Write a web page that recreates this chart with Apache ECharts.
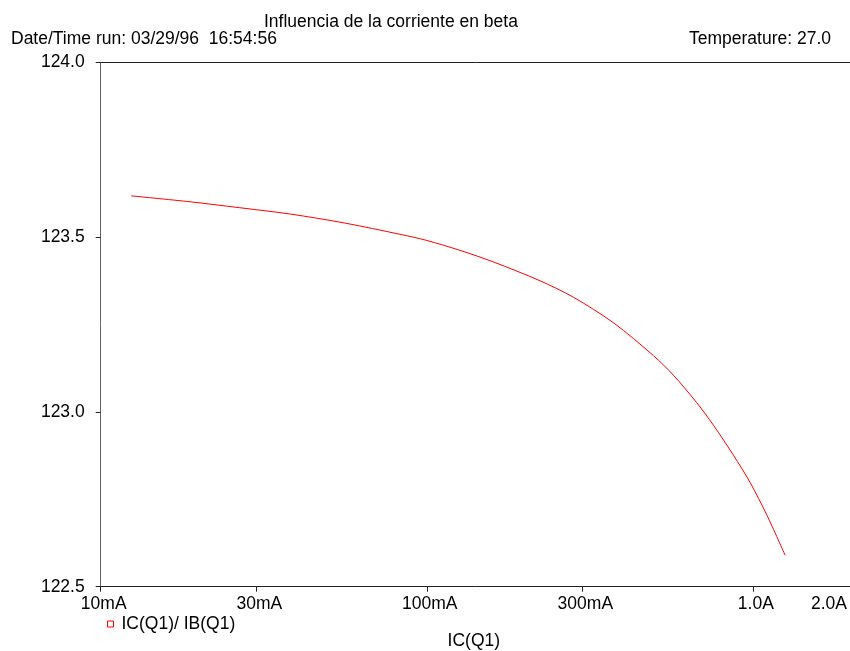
<!DOCTYPE html>
<html>
<head>
<meta charset="utf-8">
<script src="https://cdn.jsdelivr.net/npm/echarts@6/dist/echarts.min.js"></script>
<style>
html,body{margin:0;padding:0;background:#fff;}
#chart{width:850px;height:651px;}
</style>
</head>
<body>
<div id="chart"></div>
<script>
// IC(Q1) in amperes
const icValues = [0.0124, 0.0188, 0.0267, 0.0381, 0.0562, 0.0828, 0.0995, 0.1265, 0.160, 0.2226, 0.2817, 0.3736, 0.4956, 0.5707, 0.6733, 0.757, 0.872, 0.981, 1.104, 1.256];
// IC(Q1)/IB(Q1)
const betaValues = [123.618, 123.601, 123.584, 123.566, 123.540, 123.508, 123.491, 123.462, 123.429, 123.375, 123.328, 123.255, 123.161, 123.105, 123.026, 122.962, 122.876, 122.798, 122.705, 122.590];
const xTickValues = [0.01, 0.03, 0.1, 0.3, 1.0];
const xLabelValues = [0.01, 0.03, 0.1, 0.3, 1.0, 2.0];
const xLabelTexts = ['10mA', '30mA', '100mA', '300mA', '1.0A', '2.0A'];
const seriesName = 'IC(Q1)/ IB(Q1)';
const chartTitle = 'Influencia de la corriente en beta';
const dateText = 'Date/Time run: 03/29/96  16:54:56';
const tempText = 'Temperature: 27.0';
const xAxisName = 'IC(Q1)';

const FONT = '"Liberation Sans", Arial, sans-serif';
const FS = 17.5;

const chart = echarts.init(document.getElementById('chart'), null, {renderer: 'canvas'});

function fmtX(v) {
  for (let i = 0; i < xLabelValues.length; i++) {
    if (Math.abs(v - xLabelValues[i]) / xLabelValues[i] < 1e-6) {
      return i === xLabelValues.length - 1 ? '{last|' + xLabelTexts[i] + '}' : xLabelTexts[i];
    }
  }
  return '';
}

const option = {
  backgroundColor: '#fff',
  animation: false,
  title: [
    {text: chartTitle, left: 264, top: 13, padding: 0,
     textStyle: {fontFamily: FONT, fontSize: FS, fontWeight: 'normal', color: '#000', lineHeight: 18}},
    {text: dateText, left: 11, top: 30, padding: 0,
     textStyle: {fontFamily: FONT, fontSize: FS, fontWeight: 'normal', color: '#000', lineHeight: 18}},
    {text: tempText, right: 19, top: 30, padding: 0,
     textStyle: {fontFamily: FONT, fontSize: FS, fontWeight: 'normal', color: '#000', lineHeight: 18}}
  ],
  legend: {
    left: 107, top: 615, padding: 0,
    itemWidth: 6, itemHeight: 6,
    icon: 'rect',
    data: [{name: seriesName, itemStyle: {color: '#fff', borderColor: '#ff0000', borderWidth: 1}}],
    textStyle: {fontFamily: FONT, fontSize: FS, color: '#000', padding: [0, 0, 0, 3]}
  },
  grid: {left: 100.7, right: -1, top: 62.3, bottom: 64.3, containLabel: false, outerBoundsMode: 'none'},
  xAxis: [
    {
      type: 'log', min: 0.01, max: 2.0, logBase: 10,
      name: xAxisName, nameLocation: 'middle', nameGap: 45,
      nameTextStyle: {fontFamily: FONT, fontSize: FS, color: '#000', padding: [0, 4, 0, 0]},
      axisLine: {show: true, lineStyle: {color: '#222', width: 1}},
      axisTick: {show: true, inside: false, length: 5, customValues: xTickValues, lineStyle: {color: '#222'}},
      axisLabel: {show: true, customValues: xLabelValues, formatter: fmtX, margin: 8,
        alignMaxLabel: 'right', padding: [0, 0, 0, 6],
        fontFamily: FONT, fontSize: FS, color: '#000',
        rich: {last: {fontFamily: FONT, fontSize: FS, color: '#000', padding: [0, 4, 0, 0]}}},
      splitLine: {show: false}, minorTick: {show: false}
    },
    {
      type: 'log', min: 0.01, max: 2.0, position: 'top',
      axisLine: {show: true, lineStyle: {color: '#222', width: 1}},
      axisTick: {show: false}, axisLabel: {show: false}, splitLine: {show: false}
    }
  ],
  yAxis: {
    type: 'value', min: 122.5, max: 124.0, interval: 0.5,
    axisLine: {show: true, lineStyle: {color: '#666', width: 1}},
    axisTick: {show: true, inside: false, length: 5, lineStyle: {color: '#222'}},
    axisLabel: {formatter: v => v.toFixed(1), margin: 16, fontFamily: FONT, fontSize: FS, color: '#000'},
    splitLine: {show: false}
  },
  series: [{
    name: seriesName,
    type: 'line',
    xAxisIndex: 0,
    data: icValues.map((x, i) => [x, betaValues[i]]),
    showSymbol: false,
    symbol: 'none',
    smooth: 0.3,
    lineStyle: {color: '#ff0000', width: 1},
    itemStyle: {color: '#ff0000'}
  }]
};
chart.setOption(option);
</script>
</body>
</html>
